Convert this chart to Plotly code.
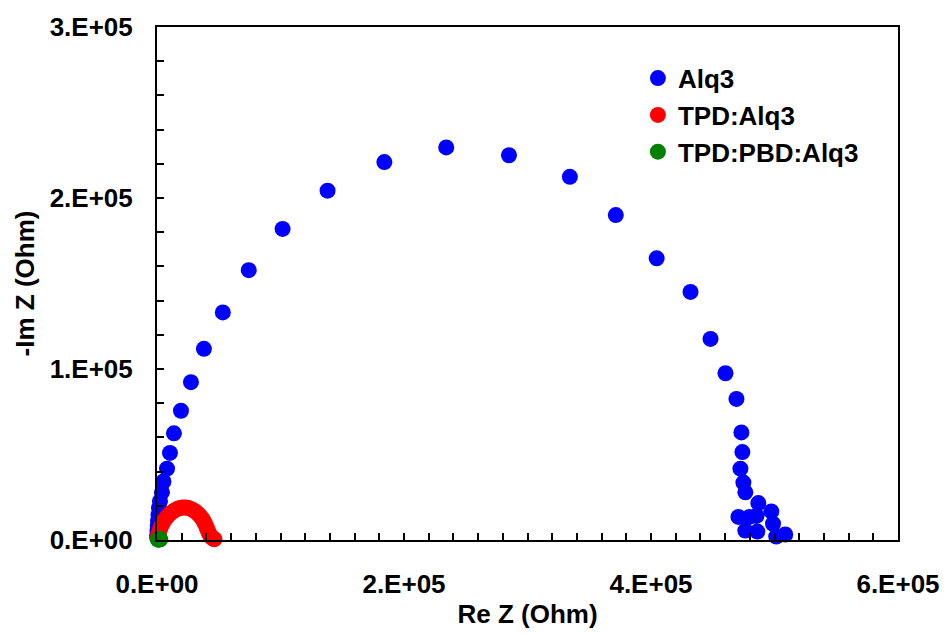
import plotly.graph_objects as go

# Alq3 (blue)
alq3_x = [234200, 285000, 334300, 371500, 404600, 432000, 448200, 460300, 469200, 473200,
          474000, 472400, 474800, 476400, 486900, 497400, 470800, 479700, 485400, 498800,
          476400, 486100, 501400, 508700,
          184100, 138100, 101700, 74300, 53300, 38000, 27500, 19400, 13700, 10500,
          8100, 5200, 4000, 2400, 1600, 1200, 800, 600, 400, 250, 150]
alq3_y = [229600, 225000, 212400, 190000, 164700, 145100, 117600, 97500, 82500, 62900,
          51400, 41700, 33600, 27900, 21600, 16700, 13500, 13500, 14100, 9500,
          5500, 4900, 2000, 3200,
          221000, 204300, 181900, 157800, 133100, 111800, 92300, 75600, 62400, 50900,
          41700, 34200, 27900, 22700, 18700, 14700, 11200, 8300, 5500, 3200, 1400]

# TPD:Alq3 (red)
tpd_x = [500, 1000, 1800, 2800, 4000, 5300, 6800, 8500, 10300, 12200, 14200, 16300, 18500,
         20700, 22800, 24900, 27000, 29000, 31000, 32800, 34500, 36000, 37300, 38400, 39400,
         40300, 41200, 42000, 42900, 43800, 44800, 45800, 46500]
tpd_y = [1000, 3000, 5000, 7000, 9000, 10800, 12400, 13900, 15200, 16300, 17300, 18100, 18700,
         19000, 19000, 18800, 18300, 17600, 16700, 15600, 14400, 13100, 11700, 10200, 8700,
         7100, 5600, 4100, 2800, 1800, 1100, 700, 500]

# TPD:PBD:Alq3 (green)
pbd_x = [800, 1300, 1800, 2300, 2700]
pbd_y = [200, 300, 400, 500, 400]

x_ticks = [0, 200000, 400000, 600000]
x_labels = ["0.E+00", "2.E+05", "4.E+05", "6.E+05"]
y_ticks = [0, 100000, 200000, 300000]
y_labels = ["0.E+00", "1.E+05", "2.E+05", "3.E+05"]

FONT = "Arial, Liberation Sans, sans-serif"

fig = go.Figure()
fig.add_trace(go.Scatter(x=alq3_x, y=alq3_y, mode="markers", name="<b>Alq3</b>",
                         legendgroup="a",
                         marker=dict(color="#0000FF", size=16, line=dict(width=0)),
                         cliponaxis=False))
fig.add_trace(go.Scatter(x=tpd_x, y=tpd_y, mode="markers", name="<b>TPD:Alq3</b>",
                         legendgroup="b",
                         marker=dict(color="#FF0000", size=16, line=dict(width=0)),
                         cliponaxis=False))
fig.add_trace(go.Scatter(x=pbd_x, y=pbd_y, mode="markers", name="<b>TPD:PBD:Alq3</b>",
                         legendgroup="c",
                         marker=dict(color="#008000", size=16, line=dict(width=0)),
                         cliponaxis=False))

axis_common = dict(
    showgrid=False, zeroline=False, showline=True, linecolor="black", linewidth=2,
    mirror=True, ticks="inside", ticklen=7, tickwidth=1.5, tickcolor="black",
    tickfont=dict(family=FONT, size=26, color="black"),
    minor=dict(dtick=20000, ticks="inside", ticklen=7, tickwidth=1.5, tickcolor="black"),
)

fig.update_xaxes(range=[0, 600000], tickmode="array", tickvals=x_ticks,
                 ticktext=["<b>%s</b>" % t for t in x_labels],
                 ticklabelstandoff=20,
                 title=dict(text="<b>Re Z (Ohm)</b>", font=dict(family=FONT, size=26, color="black"),
                            standoff=7),
                 **axis_common)
fig.update_yaxes(range=[0, 300000], tickmode="array", tickvals=y_ticks,
                 ticktext=["<b>%s</b>" % t for t in y_labels],
                 ticklabelstandoff=17,
                 title=dict(text="<b>-Im Z (Ohm)</b>", font=dict(family=FONT, size=26, color="black"),
                            standoff=8),
                 **axis_common)

fig.update_layout(
    width=952, height=636,
    margin=dict(l=157, r=52, t=20, b=93),
    plot_bgcolor="white", paper_bgcolor="white",
    showlegend=True,
    legend=dict(x=0.649, y=0.946, xanchor="left", yanchor="top",
                font=dict(family=FONT, size=26, color="black"),
                bgcolor="rgba(0,0,0,0)", tracegroupgap=0, traceorder="grouped"),
)

fig.write_html("out.html")
